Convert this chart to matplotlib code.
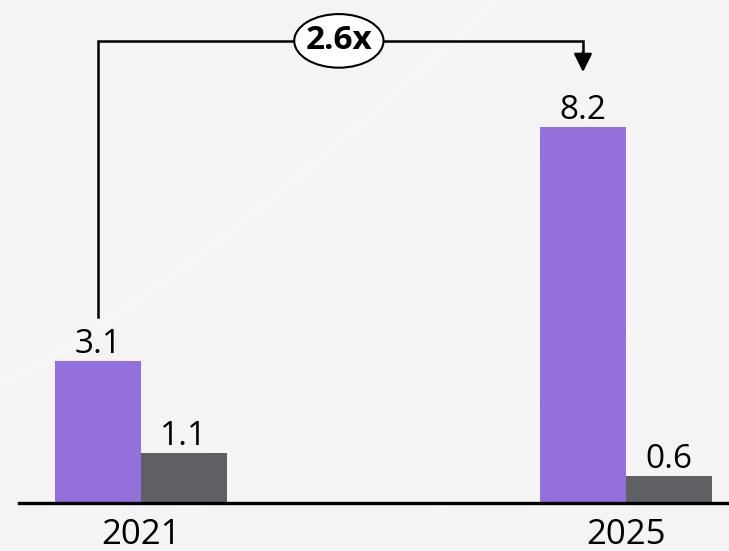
import matplotlib
matplotlib.use("Agg")
import matplotlib.pyplot as plt
from matplotlib.patches import Ellipse
import numpy as np

# data
years = ["2021", "2025"]
purple_vals = [3.1, 8.2]
gray_vals = [1.1, 0.6]
growth_label = "2.6x"

plt.rcParams["font.family"] = ["Open Sans", "DejaVu Sans"]

fig = plt.figure(figsize=(7.29, 5.51), dpi=100)
fig.patch.set_facecolor("#f4f4f4")

# faint background streaks
bg = fig.add_axes([0, 0, 1, 1], zorder=-1)
bg.set_xlim(0, 1)
bg.set_ylim(0, 1)
bg.axis("off")
t = np.linspace(0, 1, 200)
bg.plot(0.25 + 0.9 * t, 0.05 + 1.1 * t ** 0.8, color="white", lw=18, alpha=0.18)
bg.plot(-0.1 + 0.9 * t, 0.25 + 0.9 * t ** 1.3, color="white", lw=8, alpha=0.2)
bg.plot(0.55 + 0.6 * t, -0.05 + 0.7 * t ** 0.7, color="white", lw=2, alpha=0.3)

W, H = 729, 551
ax = fig.add_axes([19 / W, 48 / H, 710 / W, 503 / H])
ax.set_facecolor("none")

x = np.arange(len(years))
w = 0.1773
ax.bar(x - w / 2, purple_vals, w, color="#9370db", zorder=2)
ax.bar(x + w / 2, gray_vals, w, color="#5f6064", zorder=2)

ax.set_xlim(-0.2515, 1.2124)
ax.set_ylim(0, 503 / 45.8)

for xi, v in zip(x - w / 2, purple_vals):
    ax.annotate(f"{v}", (xi, v), xytext=(0, 8), textcoords="offset pixels",
                ha="center", va="baseline", fontsize=24, color="black")
for xi, v in zip(x + w / 2, gray_vals):
    ax.annotate(f"{v}", (xi, v), xytext=(0, 8), textcoords="offset pixels",
                ha="center", va="baseline", fontsize=24, color="black")

for xi, lab in zip(x, years):
    ax.annotate(lab, (xi, 0), xytext=(0, -41), textcoords="offset pixels",
                ha="center", va="baseline", fontsize=25, color="black")

for s in ["top", "right", "left"]:
    ax.spines[s].set_visible(False)
ax.spines["bottom"].set_linewidth(2.4)
ax.spines["bottom"].set_color("black")
ax.set_xticks([])
ax.set_yticks([])

# growth bracket
x0, x1 = -w / 2, 1 - w / 2
y_low, y_top, y_tip = 4.06, 10.09, 9.41
ax.plot([x0, x0, x1, x1], [y_low, y_top, y_top, y_tip + 0.4], color="black",
        lw=1.8, zorder=3, solid_joinstyle="miter")
ax.annotate("", xy=(x1, y_tip), xytext=(x1, y_tip + 0.45),
            arrowprops=dict(arrowstyle="-|>,head_width=0.55,head_length=1.1",
                            color="black", lw=1.8, shrinkA=0, shrinkB=0), zorder=3)
ax.add_patch(Ellipse((0.408, y_top), 0.184, 1.17, facecolor="white",
                     edgecolor="black", lw=1.5, zorder=4))
ax.text(0.408, y_top, growth_label, ha="center", va="center", fontsize=24,
        fontweight="bold", color="black", zorder=5)

fig.savefig("out.png", dpi=100, facecolor=fig.get_facecolor())
